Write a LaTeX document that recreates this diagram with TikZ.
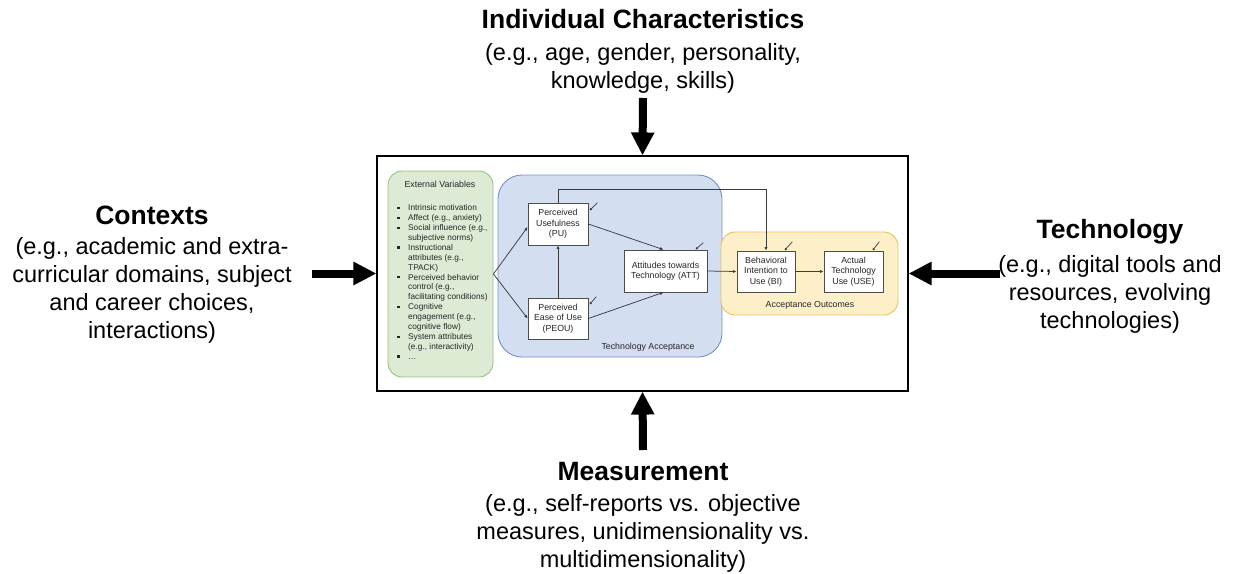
\documentclass[tikz,border=0pt]{standalone}
\usepackage{fontspec}
\setmainfont{Liberation Sans}
\usetikzlibrary{arrows.meta,calc}
\definecolor{evfill}{HTML}{DDEBD5}
\definecolor{evline}{HTML}{93C47D}
\definecolor{tafill}{HTML}{D4DEF1}
\definecolor{taline}{HTML}{7393C6}
\definecolor{aofill}{HTML}{FDF0C8}
\definecolor{aoline}{HTML}{EAC25C}
\definecolor{wire}{HTML}{3C3C3C}
\tikzset{
  frame/.style={draw=black, line width=1.1pt, inner sep=0pt},
  group/.style={line width=0.9pt, inner sep=0pt},
  grouplabel/.style={font=\fontsize{8.8}{10.5}\selectfont, text=black!85, inner sep=0pt},
  box/.style={draw=black!70, fill=white, line width=0.7pt, inner sep=0pt, align=center,
    font=\fontsize{8.8}{10.5}\selectfont, text=black!85},
  wire/.style={draw=wire, line width=0.75pt, -{Latex[length=3.6pt,width=3.2pt]}},
  errarrow/.style={draw=wire, line width=0.7pt, -{Latex[length=2.6pt,width=2.6pt]}},
  fat/.style={draw=black, line width=8pt, -{Triangle[length=23pt,width=22pt]}},
  headline/.style={font=\fontsize{26.5}{30}\bfseries, inner sep=0pt},
  body/.style={font=\fontsize{23.5}{28}\selectfont, align=center, inner sep=0pt},
}
\newcommand{\sqbullet}{\makebox[12pt][l]{\hspace{1pt}\rule[1.6pt]{2.3pt}{2.3pt}}}
\newcommand{\contline}{\hspace{12pt}}
\begin{document}
\begin{tikzpicture}[x=1pt,y=-1pt]
\useasboundingbox (0,0) rectangle (1233,573);

% outer frame of the model
\node[frame, minimum width=531pt, minimum height=235pt] (main) at (642.5,273.5) {};

% grouping panels
\node[group, draw=evline, fill=evfill, rounded corners=14pt,
      minimum width=105pt, minimum height=206pt] (ext) at (440.5,274) {};
\node[group, draw=taline, fill=tafill, rounded corners=24pt,
      minimum width=224pt, minimum height=182pt] (ta) at (610,266) {};
\node[group, draw=aoline, fill=aofill, rounded corners=14pt,
      minimum width=177pt, minimum height=83pt] (ao) at (809.5,273.5) {};

% external variables list
\node[grouplabel] (extT) at (440,184.5) {External Variables};
\node[anchor=north west, inner sep=0pt, align=left, text=black!85,
      font=\fontsize{8.3}{9.9}\selectfont] (extL) at (396,204.5) {%
  \sqbullet Intrinsic motivation\\
  \sqbullet Affect (e.g., anxiety)\\
  \sqbullet Social influence (e.g.,\\
  \contline subjective norms)\\
  \sqbullet Instructional\\
  \contline attributes (e.g.,\\
  \contline TPACK)\\
  \sqbullet Perceived behavior\\
  \contline control (e.g.,\\
  \contline facilitating conditions)\\
  \sqbullet Cognitive\\
  \contline engagement (e.g.,\\
  \contline cognitive flow)\\
  \sqbullet System attributes\\
  \contline (e.g., interactivity)\\
  \sqbullet \dots};

% model constructs
\node[box, minimum width=60pt, minimum height=42pt] (PU) at (558,224) {Perceived\\Usefulness\\(PU)};
\node[box, minimum width=60pt, minimum height=41pt] (PEOU) at (558,318.5) {Perceived\\Ease of Use\\(PEOU)};
\node[box, minimum width=83pt, minimum height=42pt] (ATT) at (665.5,271) {Attitudes towards\\Technology (ATT)};
\node[box, minimum width=58pt, minimum height=41pt] (BI) at (766,271.5) {Behavioral\\Intention to\\Use (BI)};
\node[box, minimum width=59pt, minimum height=41pt] (USE) at (853.5,271.5) {Actual\\Technology\\Use (USE)};

\node[grouplabel] (taT) at (648,347) {Technology Acceptance};
\node[grouplabel] (aoT) at (810,305) {Acceptance Outcomes};

% paths between constructs
\coordinate (fb) at (0,189);
\draw[wire] (ext.east) -- ([yshift=-3pt]PU.west);
\draw[wire] (ext.east) -- (PEOU.west);
\draw[wire] (PEOU.north) -- (PU.south);
\draw[wire] (PU.east) -- ([xshift=-2pt]ATT.north);
\draw[wire] (PEOU.east) -- ([xshift=-2pt]ATT.south);
\draw[wire] (ATT.east) -- (BI.west);
\draw[wire] (BI.east) -- (USE.west);
\draw[wire] (PU.north) -- (PU.north |- fb) -| (BI.north);

% error terms
\draw[errarrow] ([shift={(9pt,0pt)}]PU.north east) -- ([shift={(1pt,-8pt)}]PU.north east);
\draw[errarrow] ([shift={(8pt,1pt)}]PEOU.north east) -- ([shift={(1pt,-7pt)}]PEOU.north east);
\draw[errarrow] ([shift={(-4pt,7pt)}]ATT.north east) -- ([shift={(-12pt,0pt)}]ATT.north east);
\draw[errarrow] ([shift={(-3pt,9pt)}]BI.north east) -- ([shift={(-11pt,0pt)}]BI.north east);
\draw[errarrow] ([shift={(-4pt,9pt)}]USE.north east) -- ([shift={(-11pt,0pt)}]USE.north east);

% surrounding influences
\node[headline] (indT) at (643,19) {Individual Characteristics};
\node[body] (indB) at (643,68.5) {(e.g., age, gender, personality,\\knowledge, skills)};
\node[headline] (ctxT) at (152,215) {Contexts};
\node[body] (ctxB) at (152,290) {(e.g., academic and extra-\\curricular domains, subject\\and career choices,\\interactions)};
\node[headline] (tecT) at (1110,232) {Technology};
\node[body] (tecB) at (1110,294) {(e.g., digital tools and\\resources, evolving\\technologies)};
\node[headline] (meaT) at (643,472) {Measurement};
\node[body] (meaB) at (643,533) {(e.g., self-reports vs. objective\\measures, unidimensionality vs.\\multidimensionality)};

\coordinate (indS) at (643,98);
\coordinate (ctxS) at (312,273.5);
\coordinate (tecS) at (1000,273.5);
\coordinate (meaS) at (643,450);
\draw[fat] (indS) -- (main.north);
\draw[fat] (ctxS) -- (main.west);
\draw[fat] (tecS) -- (main.east);
\draw[fat] (meaS) -- (main.south);
\end{tikzpicture}
\end{document}
